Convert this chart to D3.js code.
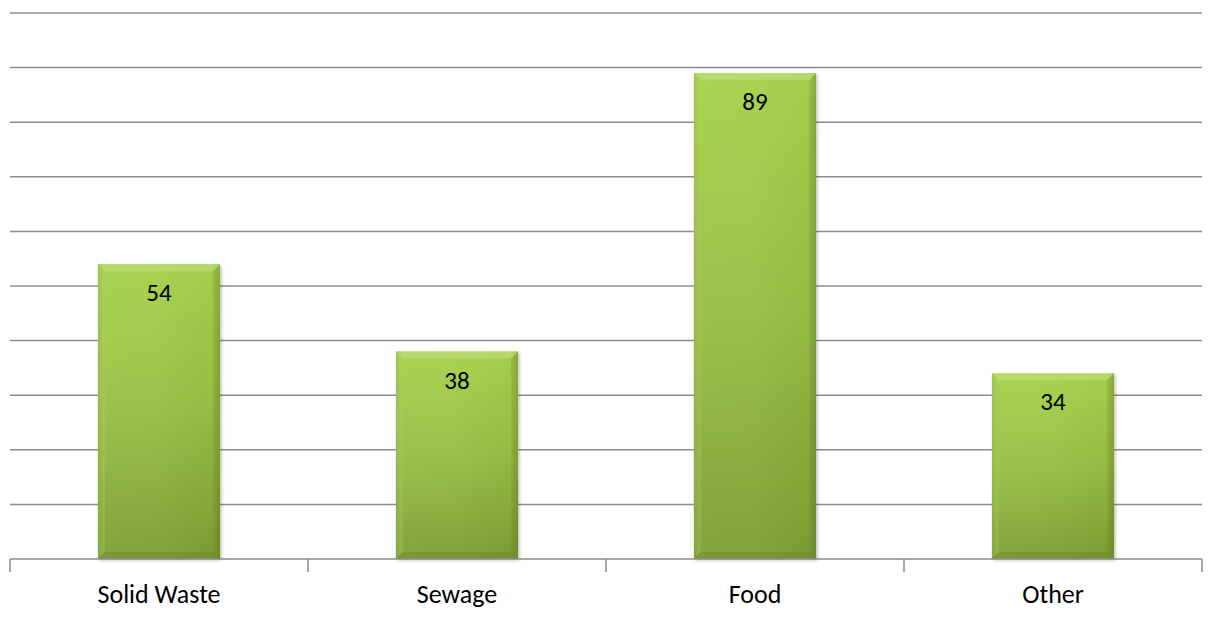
<!DOCTYPE html>
<html><head><meta charset="utf-8">
<script src="https://cdn.jsdelivr.net/npm/d3@7"></script>
<style>body{margin:0;background:#fff;}svg{display:block;}</style>
</head><body>
<script>
const categories = ["Solid Waste", "Sewage", "Food", "Other"];
const values = [54, 38, 89, 34];
const gridTicks = [0,10,20,30,40,50,60,70,80,90,100];

const W = 1217, H = 620;
const m = {left: 10, right: 15, top: 13, bottom: 61};
const svg = d3.select("body").append("svg").attr("width", W).attr("height", H);
const x = d3.scaleBand().domain(categories).range([m.left, W - m.right]).paddingInner(0.59).paddingOuter(0.295);
const y = d3.scaleLinear().domain([0, 100]).range([H - m.bottom, m.top]);
const FONT = "Carlito, Lato, 'Open Sans', sans-serif";

const defs = svg.append("defs");
const gv = defs.append("linearGradient").attr("id","gv").attr("x1",0).attr("y1",0).attr("x2",0).attr("y2",1);
gv.append("stop").attr("offset","0%").attr("stop-color","#a6d24d");
gv.append("stop").attr("offset","50%").attr("stop-color","#97bf44");
gv.append("stop").attr("offset","100%").attr("stop-color","#7e9e34");
const gh = defs.append("linearGradient").attr("id","gh").attr("x1",0).attr("y1",0).attr("x2",1).attr("y2",0);
gh.append("stop").attr("offset","0%").attr("stop-color","#000").attr("stop-opacity",0.10);
gh.append("stop").attr("offset","6%").attr("stop-color","#fff").attr("stop-opacity",0.04);
gh.append("stop").attr("offset","50%").attr("stop-color","#fff").attr("stop-opacity",0.03);
gh.append("stop").attr("offset","94%").attr("stop-color","#000").attr("stop-opacity",0.02);
gh.append("stop").attr("offset","100%").attr("stop-color","#000").attr("stop-opacity",0.14);
const sh = defs.append("filter").attr("id","sh").attr("x","-10%").attr("y","-10%").attr("width","130%").attr("height","130%");
sh.append("feDropShadow").attr("dx",1.5).attr("dy",1.5).attr("stdDeviation",1.5).attr("flood-color","#000").attr("flood-opacity",0.25);

// gridlines
svg.append("g").selectAll("line").data(gridTicks.slice(1)).join("line")
  .attr("x1", m.left).attr("x2", W - m.right)
  .attr("y1", d => y(d)).attr("y2", d => y(d))
  .attr("stroke", "#8c8c8c").attr("stroke-width", 1.5);

// bars
const bars = svg.append("g").selectAll("g").data(categories).join("g");
bars.append("rect")
  .attr("x", d => x(d)).attr("width", x.bandwidth())
  .attr("y", (d,i) => y(values[i])).attr("height", (d,i) => y(0) - y(values[i]))
  .attr("fill", "url(#gv)").attr("filter","url(#sh)");
bars.append("rect")
  .attr("x", d => x(d)).attr("width", x.bandwidth())
  .attr("y", (d,i) => y(values[i])).attr("height", (d,i) => y(0) - y(values[i]))
  .attr("fill", "url(#gh)");
const bev = 7;
bars.append("path")
  .attr("d", (d,i) => {
    const x0 = x(d), x1 = x(d) + x.bandwidth(), t = y(values[i]);
    return `M${x0},${t}L${x1},${t}L${x1-bev},${t+bev}L${x0+bev},${t+bev}Z`;
  })
  .attr("fill", "#c2e07d").attr("opacity", 0.6);
bars.append("path")
  .attr("d", (d,i) => {
    const x0 = x(d), t = y(values[i]), b = y(0);
    return `M${x0},${t}L${x0+bev},${t+bev}L${x0+bev},${b-bev}L${x0},${b}Z`;
  })
  .attr("fill", "#b0d465").attr("opacity", 0.3);
bars.append("path")
  .attr("d", (d,i) => {
    const x1 = x(d) + x.bandwidth(), t = y(values[i]), b = y(0);
    return `M${x1},${t}L${x1-bev},${t+bev}L${x1-bev},${b-bev}L${x1},${b}Z`;
  })
  .attr("fill", "#6d8a25").attr("opacity", 0.22);
bars.append("path")
  .attr("d", (d,i) => {
    const x0 = x(d), x1 = x(d) + x.bandwidth(), b = y(0);
    return `M${x0},${b}L${x1},${b}L${x1-bev},${b-bev}L${x0+bev},${b-bev}Z`;
  })
  .attr("fill", "#5f7a1f").attr("opacity", 0.25);

// value labels
bars.append("text")
  .attr("x", d => x(d) + x.bandwidth()/2)
  .attr("y", (d,i) => y(values[i]) + 37)
  .attr("text-anchor","middle")
  .attr("font-family", FONT)
  .attr("font-size", 25).attr("fill","#000")
  .text((d,i) => values[i]);

// x axis
const ax = svg.append("g").attr("transform", `translate(0,${y(0)})`);
ax.append("line").attr("x1", m.left).attr("x2", W - m.right).attr("stroke","#8c8c8c").attr("stroke-width",1.5);
const bounds = [m.left].concat(categories.map(c => x(c) + x.bandwidth() + x.step()*x.paddingInner()/2));
bounds[bounds.length-1] = W - m.right;
ax.selectAll("line.tk").data(bounds).join("line").attr("class","tk")
  .attr("x1", d => d).attr("x2", d => d).attr("y1", 0).attr("y2", 13)
  .attr("stroke","#8c8c8c").attr("stroke-width",1.5);
ax.append("g").selectAll("text").data(categories).join("text")
  .attr("x", d => x(d) + x.bandwidth()/2).attr("y", 44)
  .attr("text-anchor","middle")
  .attr("font-family", FONT)
  .attr("font-size", 26).attr("fill","#000")
  .text(d => d);
</script>
</body></html>
